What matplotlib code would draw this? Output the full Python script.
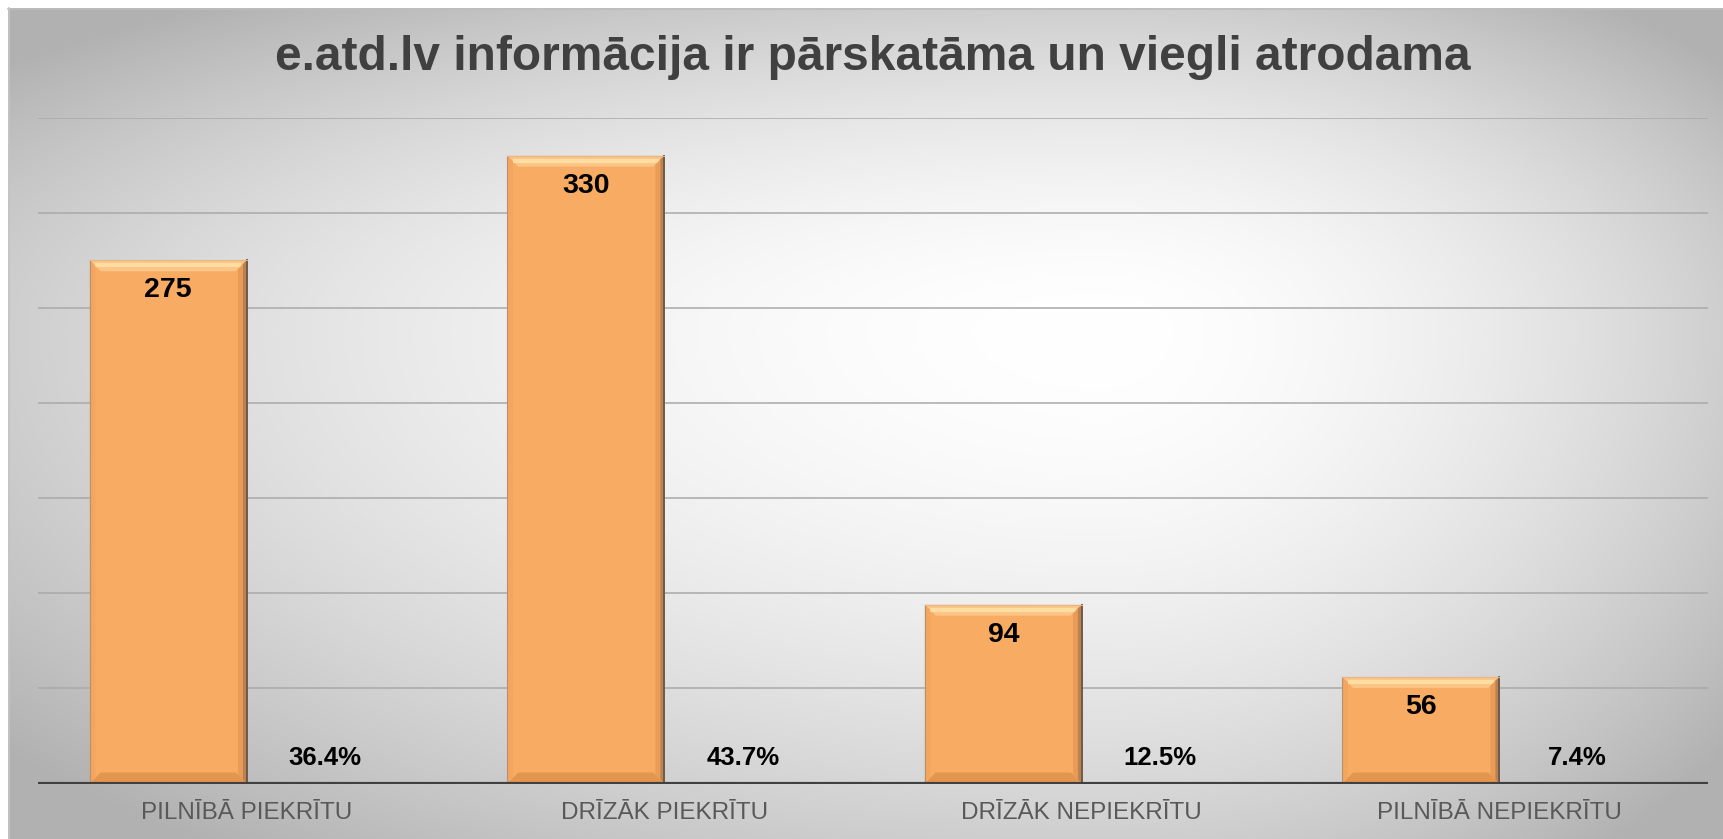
import numpy as np
import matplotlib.pyplot as plt
from matplotlib.patches import Polygon

plt.rcParams['font.family'] = ['Liberation Sans', 'DejaVu Sans']

# Data
categories = ['PILNĪBĀ PIEKRĪTU', 'DRĪZĀK PIEKRĪTU', 'DRĪZĀK NEPIEKRĪTU', 'PILNĪBĀ NEPIEKRĪTU']
counts = [275, 330, 94, 56]
percents = [36.4, 43.7, 12.5, 7.4]
title = 'e.atd.lv informācija ir pārskatāma un viegli atrodama'

W, H = 1723, 839
fig = plt.figure(figsize=(W / 100, H / 100), dpi=100)

# background: white margin + grey radial-ish gradient
bg = fig.add_axes([0, 0, 1, 1])
bg.set_xlim(0, W)
bg.set_ylim(H, 0)
bg.axis('off')
xx, yy = np.meshgrid(np.arange(8, W), np.arange(8, H))
cx, cy = 1100, 330
rx = np.where(xx < cx, cx - 8, W - cx)
ry = np.where(yy < cy, cy - 8, H - cy)
t = np.clip(np.sqrt(((xx - cx) / rx) ** 2 + ((yy - cy) / ry) ** 2), 0, 1.3)
shade = 1.0 - 0.19 * np.clip(t, 0, 1.3) ** 1.8
img = np.dstack([shade, shade, shade])
bg.imshow(img, extent=(8, W, H, 8), aspect='auto', interpolation='bilinear')
bg.plot([8, W], [8.5, 8.5], color='#bdbdbd', lw=1.2)
bg.plot([8.5, 8.5], [8, H], color='#c4c4c4', lw=1.2)

ax = fig.add_axes([38 / W, 1 - 783.5 / H, (1708 - 38) / W, (783.5 - 117.6) / H])
ax.set_facecolor('none')
ax.set_xlim(-0.5, len(categories) - 0.5)
ax.set_ylim(0, 350)
for s in ax.spines.values():
    s.set_visible(False)
ax.set_yticks(np.arange(0, 351, 50))
ax.set_yticklabels([])
ax.tick_params(axis='y', length=0)
ax.grid(axis='y', color='#a9a9a9', lw=1.1)
ax.set_axisbelow(True)

x = np.arange(len(categories))
w = 0.376
bars = ax.bar(x - w / 2, counts, w, color='#F8AB63', zorder=3)
ax.axhline(0, color='#404040', lw=3.0, zorder=6)

# bevel look on each bar
to_data = ax.transData.inverted()
p0 = to_data.transform((0, 0))
p1 = to_data.transform((11, 11))
bx, by = p1[0] - p0[0], p1[1] - p0[1]
for b in bars:
    x0, x1, top = b.get_x(), b.get_x() + b.get_width(), b.get_height()
    ax.add_patch(Polygon([(x0, top), (x1, top), (x1 - bx, top - by), (x0 + bx, top - by)],
                         closed=True, color='#FBC588', lw=0, zorder=4))
    ax.plot([x0 + bx * 0.5, x1 - bx * 0.5], [top - by * 0.45, top - by * 0.45],
            color='#FDDDA0', lw=3, zorder=4, solid_capstyle='butt')
    ax.add_patch(Polygon([(x1, top), (x1, 0), (x1 - bx * 0.8, by * 0.8), (x1 - bx * 0.8, top - by * 0.8)],
                         closed=True, color='#E99C57', lw=0, zorder=4))
    ax.add_patch(Polygon([(x1, top), (x1, 0), (x1 - bx * 0.35, by * 0.35), (x1 - bx * 0.35, top - by * 0.35)],
                         closed=True, color='#B98250', lw=0, zorder=4))
    ax.add_patch(Polygon([(x0, 0), (x1, 0), (x1 - bx, by), (x0 + bx, by)],
                         closed=True, color='#E4964F', lw=0, zorder=4))
    ax.add_patch(Polygon([(x0, top), (x0, 0), (x0 + bx * 0.5, by * 0.5), (x0 + bx * 0.5, top - by * 0.5)],
                         closed=True, color='#F4A55E', lw=0, zorder=4))
    ax.plot([x1, x1], [0, top], color='#6f5a48', lw=1.4, zorder=5)
    ax.plot([x0, x0], [0, top], color='#b59272', lw=0.8, zorder=5)
    ax.plot([x0, x1], [top, top], color='#e8b682', lw=0.8, zorder=5)

for xi, v in zip(x, counts):
    ax.annotate(str(v), (xi - w / 2, v), xytext=(0, -21.5), textcoords='offset points',
                ha='center', va='center', fontsize=20.5, fontweight='bold', color='black', zorder=7)
for xi, p in zip(x, percents):
    ax.annotate(f'{p:.1f}%', (xi + w / 2, 0), xytext=(0, 18.5), textcoords='offset points',
                ha='center', va='center', fontsize=18.5, fontweight='bold', color='black', zorder=7)

ax.set_xticks(x)
ax.set_xticklabels(categories, fontsize=17.5, color='#595959')
ax.tick_params(axis='x', length=0, pad=13)

fig.text((38 + 1708) / 2 / W, 1 - 57 / H, title, ha='center', va='center',
         fontsize=34.5, fontweight='bold', color='#404040')

fig.savefig('out.png', dpi=100)
